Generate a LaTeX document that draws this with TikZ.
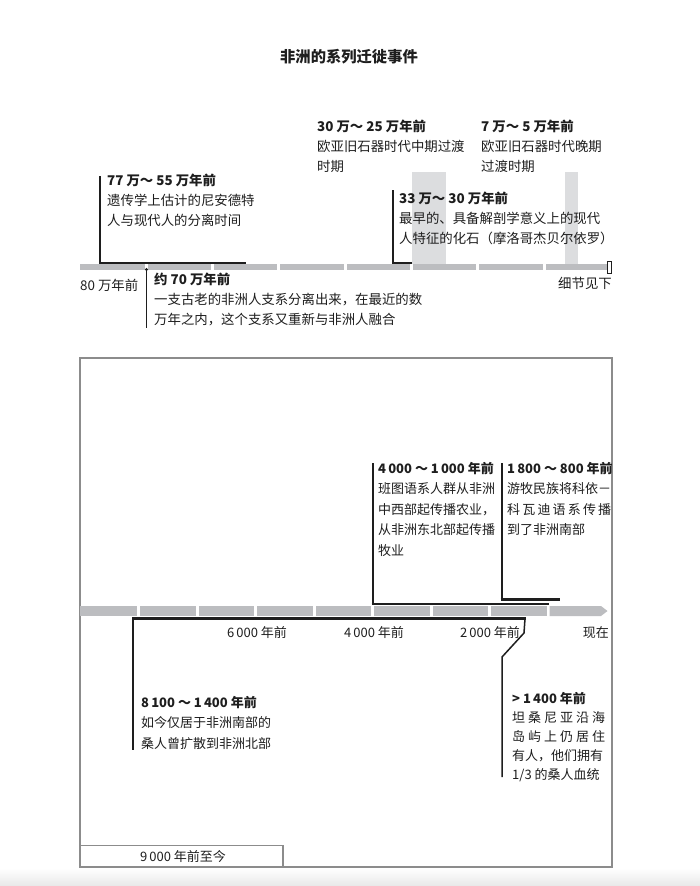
\documentclass[tikz,border=0pt]{standalone}
\usepackage{fontspec}
\setmainfont{Noto Sans CJK SC}
\definecolor{barg}{HTML}{BCBDC0}
\definecolor{colg}{HTML}{DCDDDF}
\definecolor{inkc}{HTML}{1E1E1E}
\definecolor{boxg}{HTML}{8C8C8C}
\tikzset{
  gseg/.style={fill=barg, draw=none},
  vline/.style={draw=inkc, line width=2pt},
  hline/.style={draw=inkc, line width=2.8pt},
  thinline/.style={draw=inkc, line width=1.5pt, line join=miter},
  ttop/.style={anchor=base west, inner sep=0pt, align=left, text=inkc,
    font=\fontsize{13.4}{20}\selectfont},
  tbot/.style={anchor=base west, inner sep=0pt, align=left, text=inkc,
    font=\fontsize{13}{20.5}\selectfont},
  axl/.style={anchor=base, inner sep=0pt, text=inkc, font=\fontsize{13}{16}\selectfont},
  boxline/.style={draw=boxg, line width=1.5pt},
}
\begin{document}
\begin{tikzpicture}[x=1pt,y=-1pt]
\useasboundingbox (0,0) rectangle (700,886);
\fill[white] (0,0) rectangle (700,886);
\shade[top color=white, bottom color=black!9] (0,868) rectangle (700,886);

% ---------- title ----------
\node[inner sep=0pt, text=inkc, font=\fontsize{15.3}{18}\selectfont\bfseries] (title) at (349,57) {非洲的系列迁徙事件};

% ---------- top timeline ----------
\fill[colg] (412,172) rectangle (446,264);
\fill[colg] (565,172) rectangle (578,264);
\foreach \a/\b in {80/144.8, 147.8/211.1, 214.1/277.4, 280.4/343.7, 346.7/410, 413/476.3, 479.3/542.6, 545.6/606.5}
  \fill[gseg] (\a,264) rectangle (\b,270);

\coordinate (a77) at (100,176);
\coordinate (a77b) at (100,263);
\coordinate (a55) at (246,263);
\draw[vline] (a77) -- ([yshift=1.4pt]a77b);
\draw[hline] ([xshift=-1pt]a77b) -- (a55);

\coordinate (a70) at (146.5,269.5);
\coordinate (a70b) at (146.5,328);
\fill[inkc] (a70) circle (1.6pt);
\draw[line width=1.6pt, draw=inkc] (a70) -- (a70b);

\coordinate (a33) at (393,190);
\coordinate (a33b) at (393,263);
\coordinate (a30) at (412,263);
\draw[vline] (a33) -- ([yshift=1.4pt]a33b);
\draw[hline] ([xshift=-1pt]a33b) -- (a30);

\draw[draw=inkc, line width=1.2pt, fill=white] (607.6,261.5) rectangle (611.4,273.5);

% (base anchor = baseline of the last line)
\node[ttop] (t77) at (107,225) {\textbf{77 万～ 55 万年前}\\遗传学上估计的尼安德特\\人与现代人的分离时间};
\node[ttop] (t70) at (154,324) {\textbf{约 70 万年前}\\一支古老的非洲人支系分离出来，在最近的数\\万年之内，这个支系又重新与非洲人融合};
\node[ttop] (t33) at (399,243) {\textbf{33 万～ 30 万年前}\\最早的、具备解剖学意义上的现代\\人特征的化石（摩洛哥杰贝尔依罗）};
\node[ttop] (t30) at (317,171) {\textbf{30 万～ 25 万年前}\\欧亚旧石器时代中期过渡\\时期};
\node[ttop] (t7) at (481,171) {\textbf{7 万～ 5 万年前}\\欧亚旧石器时代晚期\\过渡时期};
\node[ttop] (l80) at (80,290) {80 万年前};
\node[ttop, anchor=base east] (lsee) at (612,288) {细节见下};

% ---------- bottom box ----------
\draw[boxline] (80,358) rectangle (612,867);
\draw[boxline] (80,845.5) rectangle (283,867);
\node[axl, anchor=center] (l9000) at (183,856.5) {9\,000 年前至今};

\foreach \k in {0,...,7}{
  \pgfmathsetmacro{\xa}{80+58.5*\k+(\k>0)*1.5}
  \pgfmathsetmacro{\xb}{80+58.5*(\k+1)-1.5}
  \fill[gseg] (\xa,606) rectangle (\xb,616);
}
\fill[gseg] (549.5,606) -- (601,606) -- (607.5,611) -- (601,616) -- (549.5,616) -- cycle;

% 4000-1000
\coordinate (b40) at (372.5,463);
\coordinate (b40b) at (372.5,604);
\coordinate (b10) at (548.5,604);
\draw[vline] (b40) -- ([yshift=1.4pt]b40b);
\draw[hline] ([xshift=-1pt]b40b) -- (b10);
% 1800-800
\coordinate (b18) at (501.7,463);
\coordinate (b18b) at (501.7,599.5);
\coordinate (b08) at (560,599.5);
\draw[vline] (b18) -- ([yshift=1.4pt]b18b);
\draw[hline] ([xshift=-1pt]b18b) -- (b08);
% 8100-1400
\coordinate (b81) at (133,618.5);
\coordinate (b81b) at (133,750);
\coordinate (b14) at (525,618.5);
\draw[hline] ([xshift=-1pt]b81) -- ([xshift=0.5pt]b14);
\draw[vline] (b81) -- (b81b);
% >1400
\coordinate (c1) at (524,633);
\coordinate (c2) at (502,657);
\coordinate (c3) at (502,777);
\draw[thinline] (b14) -- (c1) -- (c2) -- (c3);

\node[axl] (x6) at (257,637) {6\,000 年前};
\node[axl] (x4) at (374,637) {4\,000 年前};
\node[axl] (x2) at (490,637) {2\,000 年前};
\node[axl, anchor=base east] (x0) at (609,637) {现在};

\node[tbot] (t4000) at (378,555) {\textbf{4\,000 ～ 1\,000 年前}\\班图语系人群从非洲\\中西部起传播农业，\\从非洲东北部起传播\\牧业};
\node[tbot] (t1800) at (507,534.5) {\textbf{1\,800 ～ 800 年前}\\游牧民族将科依－\\\makebox[104pt][l]{科\hfill 瓦\hfill 迪\hfill 语\hfill 系\hfill 传\hfill 播}\\到了非洲南部};
\node[tbot] (t8100) at (141,748) {\textbf{8\,100 ～ 1\,400 年前}\\如今仅居于非洲南部的\\桑人曾扩散到非洲北部};
\node[tbot, font=\fontsize{13}{19}\selectfont] (t1400) at (512,779) {\textbf{> 1\,400 年前}\\\makebox[93pt][l]{坦\hfill 桑\hfill 尼\hfill 亚\hfill 沿\hfill 海}\\\makebox[93pt][l]{岛\hfill 屿\hfill 上\hfill 仍\hfill 居\hfill 住}\\有人，他们拥有\\1/3 的桑人血统};
\end{tikzpicture}
\end{document}
